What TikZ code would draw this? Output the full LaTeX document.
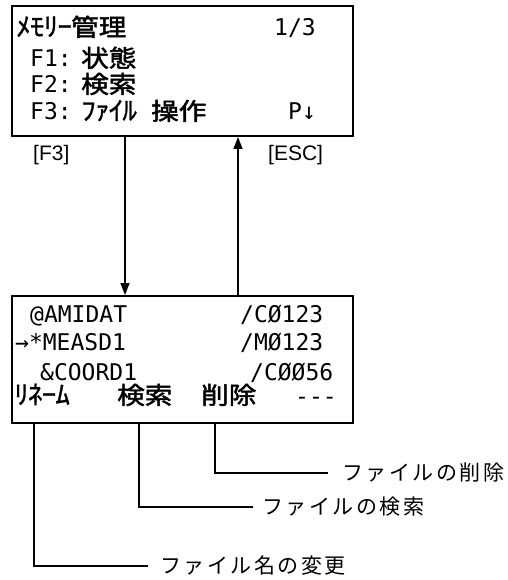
\documentclass[tikz,border=0pt]{standalone}
\usepackage{fontspec}
\setmainfont{Liberation Sans}
\newfontfamily\jpfont[LetterSpace=12]{Noto Sans CJK JP}
\newfontfamily\lcdjpfont[FakeStretch=1.15,FakeBold=2]{Noto Sans CJK JP}
\newfontfamily\lcdkfont[FakeStretch=1.12,FakeBold=1]{Noto Sans CJK JP}
\newfontfamily\lcdfont{DejaVu Sans Mono}
\usetikzlibrary{arrows.meta}
\newcommand\lcdJ[1]{{\lcdjpfont\fontsize{24}{24}\selectfont #1}}
\newcommand\lcdL[1]{{\lcdfont\fontsize{23}{23}\selectfont #1}}
\tikzset{
  screen/.style={draw, line width=2pt, rectangle, anchor=north west, inner sep=0pt},
  txt/.style={inner sep=0pt, anchor=base west, text depth=1pt},
  kana/.style={inner sep=0pt, anchor=base, text height=19pt, text depth=1pt,
    font=\lcdkfont\fontsize{26}{26}\selectfont},
  keylab/.style={inner sep=0pt, anchor=west, font=\fontsize{21}{21}\selectfont},
  calllab/.style={inner sep=0pt, anchor=west, font=\jpfont\fontsize{21}{21}\selectfont},
  conn/.style={line width=1.6pt, -{Triangle[length=12pt,width=9pt]}},
  callout/.style={line width=1.5pt}
}
\begin{document}
\begin{tikzpicture}[x=1pt,y=-1pt]
\useasboundingbox (0,0) rectangle (507,580);
% screens
\node[screen, minimum width=341pt, minimum height=130pt] (top) at (11,5) {};
\node[screen, minimum width=341pt, minimum height=127pt] (bot) at (11,295) {};
% top screen text
\node[kana] (t1a) at (23.5,36) {ﾒ};
\node[kana] (t1b) at (37.2,36) {ﾓ};
\node[kana] (t1c) at (51,36) {ﾘ};
\node[kana] (t1d) at (64.7,36) {ｰ};
\node[txt] (t1j) at (71,36) {\lcdJ{管理}};
\node[txt] (t1r) at (274,36) {\lcdL{1/3}};
\node[txt] (t2) at (30,67) {\lcdL{F1:}};
\node[txt] (t2j) at (81,67) {\lcdJ{状態}};
\node[txt] (t3) at (30,93) {\lcdL{F2:}};
\node[txt] (t3j) at (81,93) {\lcdJ{検索}};
\node[txt] (t4) at (30,120) {\lcdL{F3:}};
\node[kana] (t4a) at (88.5,120) {ﾌ};
\node[kana] (t4b) at (102.2,120) {ｧ};
\node[kana] (t4c) at (116,120) {ｲ};
\node[kana] (t4d) at (129.7,120) {ﾙ};
\node[txt] (t4j) at (151,120) {\lcdJ{操作}};
\node[txt] (t4r) at (288,120) {\lcdL{P↓}};
% bottom screen text
\node[txt] (b1) at (30,322) {\lcdL{@AMIDAT}};
\node[txt] (b1r) at (240,322) {\lcdL{/CØ123}};
\node[txt] (b2) at (15,350) {\lcdL{→*MEASD1}};
\node[txt] (b2r) at (240,350) {\lcdL{/MØ123}};
\node[txt] (b3) at (40,380) {\lcdL{\&COORD1}};
\node[txt] (b3r) at (250,380) {\lcdL{/CØØ56}};
\node[kana] (b4a) at (21.5,404) {ﾘ};
\node[kana] (b4b) at (35.2,404) {ﾈ};
\node[kana] (b4c) at (49,404) {ｰ};
\node[kana] (b4d) at (62.7,404) {ﾑ};
\node[txt] (b4e) at (117,404) {\lcdJ{検索}};
\node[txt] (b4f) at (201,404) {\lcdJ{削除}};
\node[txt] (b4g) at (295,404) {\lcdL{-\kern0pt-\kern0pt-}};
% key labels
\node[keylab] (kf3) at (33,155) {[F3]};
\node[keylab] (kesc) at (268,155) {[ESC]};
% transition arrows
\coordinate (dx) at (125,0);
\coordinate (ux) at (238,0);
\draw[conn] (top.south -| dx) -- (bot.north -| dx);
\draw[conn] (bot.north -| ux) -- (top.south -| ux);
% callout labels
\node[calllab] (l3) at (342,473) {ファイルの削除};
\node[calllab] (l2) at (262,507) {ファイルの検索};
\node[calllab] (l1) at (160,566) {ファイル名の変更};
\coordinate (k3) at (215,0);
\coordinate (k2) at (139,0);
\coordinate (k1) at (34,0);
\draw[callout] (bot.south -| k3) |- ([xshift=-14pt]l3.west);
\draw[callout] (bot.south -| k2) |- ([xshift=-9pt]l2.west);
\draw[callout] (bot.south -| k1) |- ([xshift=-12pt]l1.west);
\end{tikzpicture}
\end{document}
